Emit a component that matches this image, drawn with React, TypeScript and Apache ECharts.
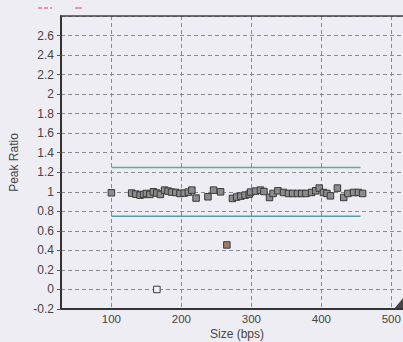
import React, { useEffect, useRef } from "react";
import * as echarts from "echarts";

const sizes = [100, 129, 135, 141, 146, 150, 155, 160, 165, 170, 176, 181, 186, 192, 198, 204, 210, 215, 221, 238, 246, 256, 273, 279, 285, 291, 297, 299, 306, 313, 318, 326, 331, 338, 346, 353, 359, 366, 372, 378, 386, 392, 397, 403, 408, 413, 423, 432, 438, 446, 453, 459];
const ratios = [0.99, 0.987, 0.976, 0.966, 0.973, 0.983, 0.973, 1.0, 0.987, 0.973, 1.017, 1.007, 0.997, 0.993, 0.983, 0.987, 0.997, 1.017, 0.936, 0.949, 1.017, 1.0, 0.932, 0.946, 0.956, 0.966, 0.976, 0.997, 1.007, 1.017, 1.003, 0.942, 0.983, 1.01, 0.993, 0.983, 0.983, 0.983, 0.983, 0.983, 0.993, 1.01, 1.038, 0.993, 0.983, 0.959, 1.038, 0.942, 0.983, 0.993, 0.993, 0.983];
const outlierSizes = [165, 265];
const outlierRatios = [0.0, 0.456];
const outlierFills = ["#f4f2f6", "#9a7d70"];
const thresholdRange = [100, 456];
const upperThreshold = 1.25;
const lowerThreshold = 0.75;
const xTickValues = [100, 200, 300, 400, 500];

export default function App() {
  const ref = useRef<HTMLDivElement>(null);
  useEffect(() => {
    if (!ref.current) return;
    const chart = echarts.init(ref.current, null, { renderer: "svg" });
    const font = "Liberation Sans";
    const dash = { type: [4, 3] as any, color: "#8a8a90", width: 1 };
    chart.setOption({
      animation: false,
      backgroundColor: "#eeedf3",
      grid: { left: 61, top: 16, right: -10, bottom: 33, containLabel: false, outerBoundsMode: "none" },
      xAxis: [
        {
          type: "value",
          min: 28,
          max: 531,
          name: "Size (bps)",
          nameLocation: "middle",
          nameGap: 19,
          nameMoveOverlap: false,
          nameTextStyle: { fontFamily: font, fontSize: 12, color: "#444" },
          axisLine: { show: true, onZero: false, lineStyle: { color: "#333", width: 2 } },
          axisTick: { show: false, customValues: xTickValues },
          axisLabel: { customValues: xTickValues, fontFamily: font, fontSize: 11.5, color: "#444", margin: 4 },
          splitLine: { show: true, lineStyle: dash },
        },
        {
          type: "value",
          position: "top",
          min: 28,
          max: 531,
          axisLine: { show: true, onZero: false, lineStyle: { color: "#444", width: 1.5 } },
          axisTick: { show: false },
          axisLabel: { show: false },
          splitLine: { show: false },
        },
      ],
      yAxis: {
        type: "value",
        min: -0.2,
        max: 2.8,
        interval: 0.2,
        name: "Peak Ratio",
        nameLocation: "middle",
        nameGap: 41,
        nameMoveOverlap: false,
        nameTextStyle: { fontFamily: font, fontSize: 12, color: "#444" },
        axisLine: { show: true, onZero: false, lineStyle: { color: "#333", width: 2 } },
        axisTick: { show: true, length: 4, lineStyle: { color: "#555" } },
        axisLabel: {
          fontFamily: font,
          fontSize: 12,
          color: "#444",
          margin: 7,
          showMaxLabel: false,
          formatter: (v: number) => String(Math.round(v * 10) / 10),
        },
        splitLine: { show: true, lineStyle: dash },
      },
      series: [
        {
          type: "line",
          data: thresholdRange.map((x) => [x, upperThreshold]),
          symbol: "none",
          lineStyle: { color: "#62a89c", width: 1.5 },
        },
        {
          type: "line",
          data: thresholdRange.map((x) => [x, lowerThreshold]),
          symbol: "none",
          lineStyle: { color: "#5c98a8", width: 1.5 },
        },
        {
          type: "scatter",
          symbol: "rect",
          symbolSize: 6.5,
          data: sizes.map((s, i) => [s, ratios[i]]),
          itemStyle: { color: "#8c8c8c", borderColor: "#3a3a3a", borderWidth: 1, opacity: 1 },
        },
        {
          type: "scatter",
          symbol: "rect",
          symbolSize: 6.5,
          data: outlierSizes.map((s, i) => ({
            value: [s, outlierRatios[i]],
            itemStyle: { color: outlierFills[i] },
          })),
          itemStyle: { borderColor: "#3a3a3a", borderWidth: 1, opacity: 1 },
        },
      ],
      graphic: [
        { type: "line", shape: { x1: 38, y1: 8, x2: 52, y2: 8 }, style: { stroke: "#e7789a", lineWidth: 1.5, lineDash: [4, 2] } },
        { type: "line", shape: { x1: 75, y1: 8, x2: 82, y2: 8 }, style: { stroke: "#e7789a", lineWidth: 1.5 } },
        { type: "polygon", shape: { points: [[394, 309], [403, 298], [403, 309]] }, style: { fill: "#4a4548" } },
      ],
    });
    return () => chart.dispose();
  }, []);
  return <div ref={ref} style={{ position: "fixed", left: 0, top: 0, width: 403, height: 342 }} />;
}
